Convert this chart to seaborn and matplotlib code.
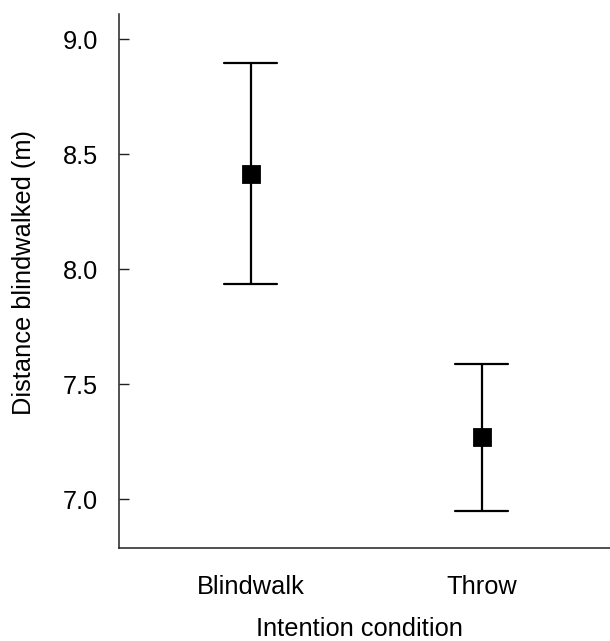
import matplotlib
matplotlib.use("Agg")
import matplotlib.pyplot as plt
import seaborn as sns
import pandas as pd

categories = ["Blindwalk", "Throw"]
means = [8.415, 7.27]
half_ci = [0.48, 0.32]
yticks = [7.0, 7.5, 8.0, 8.5, 9.0]

sns.set_style("ticks")
plt.rcParams["font.family"] = ["Liberation Sans", "DejaVu Sans"]
plt.rcParams["text.color"] = "black"
plt.rcParams["axes.labelcolor"] = "black"

rows = []
for c, m, e in zip(categories, means, half_ci):
    rows.append({"cond": c, "val": m - e})
    rows.append({"cond": c, "val": m + e})
df = pd.DataFrame(rows)

fig = plt.figure(figsize=(6.10, 6.41), dpi=100)
ax = fig.add_axes([0.195, 0.1446, 0.805, 0.8336])

sns.pointplot(data=df, x="cond", y="val", order=categories,
              estimator="mean", errorbar=lambda x: (x.min(), x.max()),
              color="black", markers="s", linestyle="none",
              markersize=11, capsize=0.23,
              err_kws={"linewidth": 1.6}, ax=ax)

ax.set_xlim(-0.57, 1.555)
ax.set_ylim(6.787, 9.11)
ax.set_yticks(yticks)
ax.set_yticklabels([f"{t:.1f}" for t in yticks])
sns.despine(ax=ax)
for s in ["left", "bottom"]:
    ax.spines[s].set_linewidth(1.1)
    ax.spines[s].set_color("#222222")

ax.tick_params(axis="y", direction="in", length=7.2, width=1.0, pad=15,
               labelsize=18.3, colors="#222222", labelcolor="black")
ax.tick_params(axis="x", length=0, pad=19, labelsize=18.3, labelcolor="black")

ax.set_xlabel("Intention condition", fontsize=18.3)
ax.set_ylabel("Distance blindwalked (m)", fontsize=18.3)
ax.xaxis.set_label_coords(0.49, -0.128)
ax.yaxis.set_label_coords(-0.169, 0.516)

fig.savefig("out.png", dpi=100)
